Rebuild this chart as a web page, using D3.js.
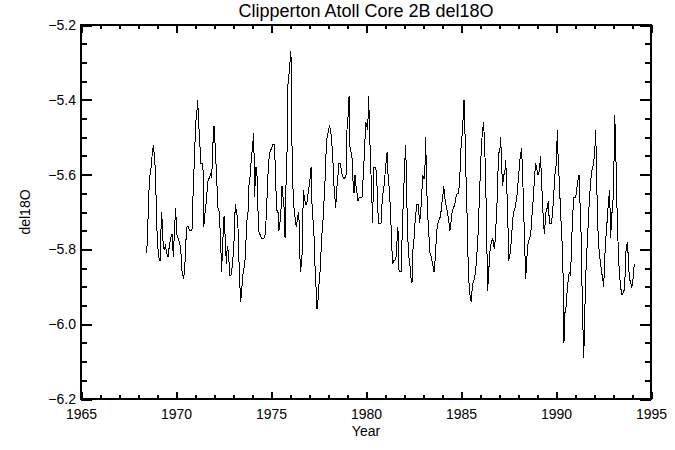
<!DOCTYPE html>
<html>
<head>
<meta charset="utf-8">
<script src="https://cdn.jsdelivr.net/npm/d3@7"></script>
<style>
  body { margin: 0; background: #fff; }
  text { font-family: "Liberation Sans", Arial, sans-serif; fill: #000; }
</style>
</head>
<body>
<div id="chart"></div>
<script>
// decimal year of each sample
var years = [
  1968.46, 1968.49, 1968.54, 1968.60, 1968.67, 1968.74, 1968.81, 1968.88, 1968.93, 1968.98,
  1969.04, 1969.09, 1969.16, 1969.19, 1969.25, 1969.30, 1969.37, 1969.44, 1969.51, 1969.58,
  1969.65, 1969.72, 1969.79, 1969.86, 1969.91, 1969.98, 1970.04, 1970.11, 1970.18, 1970.25,
  1970.32, 1970.40, 1970.47, 1970.53, 1970.58, 1970.65, 1970.72, 1970.84, 1970.88, 1970.93,
  1970.98, 1971.04, 1971.09, 1971.14, 1971.19, 1971.25, 1971.30, 1971.37, 1971.42, 1971.46,
  1971.53, 1971.60, 1971.67, 1971.74, 1971.81, 1971.88, 1971.93, 1972.00, 1972.07, 1972.14,
  1972.21, 1972.28, 1972.35, 1972.40, 1972.46, 1972.53, 1972.60, 1972.65, 1972.70, 1972.77,
  1972.82, 1972.89, 1972.95, 1973.02, 1973.07, 1973.12, 1973.19, 1973.25, 1973.30, 1973.35,
  1973.40, 1973.46, 1973.51, 1973.58, 1973.65, 1973.72, 1973.79, 1973.84, 1973.91, 1973.96,
  1974.02, 1974.09, 1974.14, 1974.19, 1974.25, 1974.30, 1974.35, 1974.42, 1974.49, 1974.56,
  1974.63, 1974.70, 1974.77, 1974.84, 1974.89, 1974.95, 1975.02, 1975.09, 1975.16, 1975.21,
  1975.26, 1975.32, 1975.37, 1975.42, 1975.47, 1975.53, 1975.58, 1975.63, 1975.68, 1975.74,
  1975.79, 1975.84, 1975.89, 1975.95, 1976.00, 1976.05, 1976.11, 1976.16, 1976.21, 1976.28,
  1976.33, 1976.39, 1976.44, 1976.49, 1976.54, 1976.60, 1976.65, 1976.70, 1976.75, 1976.82,
  1976.88, 1976.93, 1976.98, 1977.04, 1977.11, 1977.16, 1977.21, 1977.26, 1977.32, 1977.37,
  1977.42, 1977.47, 1977.53, 1977.58, 1977.63, 1977.68, 1977.74, 1977.79, 1977.84, 1977.89,
  1977.95, 1978.00, 1978.07, 1978.14, 1978.19, 1978.25, 1978.30, 1978.35, 1978.40, 1978.46,
  1978.51, 1978.58, 1978.63, 1978.68, 1978.74, 1978.81, 1978.88, 1978.95, 1979.00, 1979.05,
  1979.11, 1979.16, 1979.21, 1979.26, 1979.32, 1979.37, 1979.42, 1979.47, 1979.53, 1979.58,
  1979.65, 1979.72, 1979.79, 1979.86, 1979.93, 1979.98, 1980.04, 1980.09, 1980.14, 1980.19,
  1980.25, 1980.30, 1980.35, 1980.40, 1980.47, 1980.54, 1980.60, 1980.65, 1980.72, 1980.79,
  1980.84, 1980.89, 1980.95, 1981.00, 1981.05, 1981.11, 1981.16, 1981.21, 1981.25, 1981.30,
  1981.35, 1981.40, 1981.46, 1981.51, 1981.58, 1981.63, 1981.68, 1981.74, 1981.79, 1981.86,
  1981.91, 1981.98, 1982.04, 1982.09, 1982.14, 1982.19, 1982.25, 1982.30, 1982.35, 1982.42,
  1982.47, 1982.53, 1982.58, 1982.63, 1982.68, 1982.75, 1982.82, 1982.88, 1982.93, 1982.98,
  1983.04, 1983.09, 1983.14, 1983.19, 1983.25, 1983.32, 1983.37, 1983.44, 1983.51, 1983.58,
  1983.65, 1983.72, 1983.79, 1983.86, 1983.93, 1983.98, 1984.04, 1984.09, 1984.14, 1984.21,
  1984.28, 1984.35, 1984.42, 1984.47, 1984.53, 1984.60, 1984.67, 1984.74, 1984.81, 1984.88,
  1984.95, 1985.00, 1985.05, 1985.11, 1985.16, 1985.21, 1985.26, 1985.32, 1985.37, 1985.42,
  1985.47, 1985.53, 1985.58, 1985.63, 1985.70, 1985.77, 1985.84, 1985.91, 1985.96, 1986.02,
  1986.07, 1986.12, 1986.19, 1986.25, 1986.30, 1986.35, 1986.40, 1986.46, 1986.51, 1986.56,
  1986.61, 1986.67, 1986.72, 1986.77, 1986.82, 1986.88, 1986.93, 1986.98, 1987.04, 1987.09,
  1987.14, 1987.19, 1987.25, 1987.30, 1987.35, 1987.40, 1987.46, 1987.51, 1987.56, 1987.61,
  1987.67, 1987.72, 1987.77, 1987.84, 1987.91, 1987.96, 1988.02, 1988.07, 1988.12, 1988.19,
  1988.25, 1988.30, 1988.35, 1988.40, 1988.46, 1988.51, 1988.56, 1988.61, 1988.67, 1988.72,
  1988.77, 1988.82, 1988.88, 1988.93, 1988.98, 1989.04, 1989.09, 1989.14, 1989.19, 1989.23,
  1989.28, 1989.33, 1989.39, 1989.44, 1989.49, 1989.54, 1989.60, 1989.65, 1989.70, 1989.75,
  1989.81, 1989.86, 1989.91, 1989.96, 1990.02, 1990.07, 1990.12, 1990.18, 1990.23, 1990.28,
  1990.33, 1990.39, 1990.42, 1990.47, 1990.54, 1990.60, 1990.65, 1990.70, 1990.77, 1990.82,
  1990.88, 1990.93, 1990.98, 1991.04, 1991.09, 1991.14, 1991.21, 1991.26, 1991.32, 1991.37,
  1991.42, 1991.46, 1991.51, 1991.56, 1991.61, 1991.67, 1991.72, 1991.77, 1991.82, 1991.88,
  1991.93, 1991.98, 1992.04, 1992.09, 1992.14, 1992.19, 1992.25, 1992.30, 1992.35, 1992.40,
  1992.46, 1992.51, 1992.56, 1992.61, 1992.67, 1992.72, 1992.77, 1992.82, 1992.88, 1992.93,
  1992.98, 1993.04, 1993.09, 1993.14, 1993.19, 1993.25, 1993.30, 1993.35, 1993.40, 1993.46,
  1993.51, 1993.56, 1993.61, 1993.67, 1993.72, 1993.77, 1993.82, 1993.88, 1993.93, 1993.98,
  1994.04, 1994.09, 1994.14
];

// del18O values matching the years above
var del18O = [
  -5.81, -5.77, -5.70, -5.61, -5.59, -5.55, -5.52, -5.56, -5.61, -5.73,
  -5.79, -5.82, -5.83, -5.77, -5.70, -5.77, -5.80, -5.79, -5.81, -5.82,
  -5.79, -5.77, -5.76, -5.82, -5.76, -5.69, -5.76, -5.77, -5.78, -5.80,
  -5.86, -5.88, -5.84, -5.77, -5.74, -5.74, -5.75, -5.75, -5.68, -5.61,
  -5.54, -5.46, -5.44, -5.40, -5.46, -5.51, -5.57, -5.57, -5.58, -5.74,
  -5.70, -5.67, -5.62, -5.61, -5.60, -5.61, -5.53, -5.47, -5.53, -5.61,
  -5.69, -5.70, -5.78, -5.86, -5.78, -5.71, -5.78, -5.84, -5.79, -5.81,
  -5.87, -5.87, -5.85, -5.81, -5.76, -5.68, -5.70, -5.72, -5.81, -5.88,
  -5.94, -5.91, -5.87, -5.85, -5.82, -5.73, -5.70, -5.63, -5.60, -5.56,
  -5.53, -5.49, -5.66, -5.58, -5.58, -5.67, -5.75, -5.76, -5.77, -5.77,
  -5.77, -5.76, -5.69, -5.60, -5.56, -5.54, -5.53, -5.52, -5.52, -5.56,
  -5.64, -5.70, -5.70, -5.75, -5.73, -5.69, -5.63, -5.66, -5.68, -5.77,
  -5.63, -5.55, -5.36, -5.33, -5.30, -5.27, -5.54, -5.64, -5.69, -5.72,
  -5.74, -5.72, -5.70, -5.73, -5.86, -5.84, -5.80, -5.64, -5.66, -5.68,
  -5.68, -5.66, -5.64, -5.62, -5.58, -5.68, -5.72, -5.76, -5.85, -5.90,
  -5.96, -5.94, -5.89, -5.86, -5.81, -5.76, -5.72, -5.67, -5.62, -5.55,
  -5.50, -5.49, -5.47, -5.48, -5.51, -5.55, -5.62, -5.65, -5.69, -5.64,
  -5.61, -5.57, -5.57, -5.58, -5.60, -5.61, -5.61, -5.60, -5.48, -5.45,
  -5.39, -5.53, -5.54, -5.55, -5.62, -5.65, -5.60, -5.63, -5.65, -5.67,
  -5.66, -5.66, -5.66, -5.60, -5.53, -5.46, -5.47, -5.48, -5.39, -5.49,
  -5.58, -5.65, -5.73, -5.58, -5.58, -5.59, -5.65, -5.73, -5.73, -5.73,
  -5.68, -5.65, -5.63, -5.60, -5.57, -5.54, -5.60, -5.63, -5.66, -5.71,
  -5.78, -5.84, -5.83, -5.83, -5.82, -5.78, -5.74, -5.86, -5.86, -5.86,
  -5.74, -5.65, -5.57, -5.52, -5.65, -5.76, -5.82, -5.83, -5.87, -5.89,
  -5.80, -5.77, -5.73, -5.70, -5.68, -5.68, -5.73, -5.70, -5.66, -5.60,
  -5.61, -5.61, -5.50, -5.63, -5.71, -5.77, -5.81, -5.82, -5.84, -5.86,
  -5.82, -5.75, -5.73, -5.72, -5.71, -5.68, -5.66, -5.63, -5.66, -5.68,
  -5.70, -5.72, -5.75, -5.73, -5.70, -5.69, -5.68, -5.66, -5.65, -5.65,
  -5.59, -5.53, -5.50, -5.45, -5.40, -5.49, -5.60, -5.71, -5.82, -5.89,
  -5.92, -5.94, -5.91, -5.89, -5.88, -5.86, -5.81, -5.75, -5.67, -5.59,
  -5.53, -5.49, -5.46, -5.53, -5.62, -5.75, -5.91, -5.86, -5.81, -5.79,
  -5.78, -5.77, -5.79, -5.80, -5.75, -5.70, -5.62, -5.54, -5.54, -5.50,
  -5.58, -5.63, -5.60, -5.60, -5.56, -5.62, -5.71, -5.83, -5.82, -5.80,
  -5.76, -5.72, -5.70, -5.69, -5.67, -5.65, -5.61, -5.58, -5.55, -5.53,
  -5.61, -5.70, -5.78, -5.88, -5.83, -5.79, -5.78, -5.77, -5.76, -5.72,
  -5.69, -5.65, -5.60, -5.57, -5.58, -5.60, -5.60, -5.58, -5.55, -5.61,
  -5.66, -5.72, -5.76, -5.72, -5.69, -5.69, -5.67, -5.73, -5.73, -5.73,
  -5.71, -5.67, -5.63, -5.59, -5.57, -5.48, -5.57, -5.62, -5.69, -5.74,
  -5.79, -5.90, -6.05, -5.97, -5.95, -5.90, -5.88, -5.86, -5.87, -5.78,
  -5.71, -5.66, -5.66, -5.66, -5.64, -5.62, -5.60, -5.67, -5.76, -5.90,
  -6.01, -6.09, -5.98, -5.88, -5.82, -5.76, -5.70, -5.66, -5.62, -5.59,
  -5.58, -5.57, -5.54, -5.48, -5.61, -5.73, -5.79, -5.82, -5.84, -5.86,
  -5.88, -5.90, -5.83, -5.78, -5.74, -5.70, -5.67, -5.64, -5.77, -5.70,
  -5.70, -5.61, -5.44, -5.52, -5.65, -5.76, -5.83, -5.87, -5.90, -5.92,
  -5.92, -5.91, -5.91, -5.81, -5.79, -5.78, -5.85, -5.88, -5.89, -5.90,
  -5.89, -5.85, -5.84
];

var xTicks = [1965, 1970, 1975, 1980, 1985, 1990, 1995];
var yTicks = [-6.2, -6.0, -5.8, -5.6, -5.4, -5.2];

var margin = {top: 25, right: 24, bottom: 51, left: 81},
    width = 675 - margin.left - margin.right,
    height = 450 - margin.top - margin.bottom;

var x = d3.scaleLinear()
    .domain([1965, 1995])
    .range([0, width]);

var y = d3.scaleLinear()
    .domain([-6.2, -5.2])
    .range([height, 0]);

var xMinor = d3.range(1965, 1996, 1).filter(function(d) { return d % 5 !== 0; });
var yMinor = d3.range(0, 21).map(function(i) { return -6.2 + i * 0.05; })
    .filter(function(d, i) { return i % 4 !== 0; });

// IDL style: ticks point into the plot
var xMajorLen = 7.5, xMinorLen = 3.7,
    yMajorLen = 11.4, yMinorLen = 5.7;

var svg = d3.select("#chart").append("svg")
    .attr("width", 675)
    .attr("height", 450)
    .append("g")
    .attr("transform", "translate(" + margin.left + "," + margin.top + ")");

function tickLayer(axis, tr) {
  var g = svg.append("g").attr("transform", tr).call(axis);
  g.attr("font-family", null);
  g.select(".domain").remove();
  g.selectAll("line").attr("stroke", "#000").attr("stroke-width", 2).attr("shape-rendering", "crispEdges");
  g.selectAll("text").style("font-size", "14px").attr("fill", "#000");
  return g;
}

// bottom
tickLayer(d3.axisBottom(x).tickValues(xTicks).tickFormat(d3.format("d"))
    .tickSizeInner(-xMajorLen).tickSizeOuter(0).tickPadding(10), "translate(0," + height + ")");
tickLayer(d3.axisBottom(x).tickValues(xMinor).tickFormat("")
    .tickSizeInner(-xMinorLen).tickSizeOuter(0), "translate(0," + height + ")");
// top
tickLayer(d3.axisTop(x).tickValues(xTicks).tickFormat("")
    .tickSizeInner(-xMajorLen).tickSizeOuter(0), "translate(0,0)");
tickLayer(d3.axisTop(x).tickValues(xMinor).tickFormat("")
    .tickSizeInner(-xMinorLen).tickSizeOuter(0), "translate(0,0)");
// left
tickLayer(d3.axisLeft(y).tickValues(yTicks).tickFormat(d3.format(".1f"))
    .tickSizeInner(-yMajorLen).tickSizeOuter(0).tickPadding(5), "translate(0,0)");
tickLayer(d3.axisLeft(y).tickValues(yMinor).tickFormat("")
    .tickSizeInner(-yMinorLen).tickSizeOuter(0), "translate(0,0)");
// right
tickLayer(d3.axisRight(y).tickValues(yTicks).tickFormat("")
    .tickSizeInner(-yMajorLen).tickSizeOuter(0), "translate(" + width + ",0)");
tickLayer(d3.axisRight(y).tickValues(yMinor).tickFormat("")
    .tickSizeInner(-yMinorLen).tickSizeOuter(0), "translate(" + width + ",0)");

// plot box
svg.append("rect")
    .attr("width", width)
    .attr("height", height)
    .attr("fill", "none")
    .attr("stroke", "#000")
    .attr("stroke-width", 2)
    .attr("shape-rendering", "crispEdges");

var series = years.map(function(d, i) { return {year: d, value: del18O[i]}; });

var line = d3.line()
    .x(function(d) { return x(d.year); })
    .y(function(d) { return y(d.value); });

svg.append("path")
    .datum(series)
    .attr("fill", "none")
    .attr("stroke", "#000")
    .attr("stroke-width", 1)
    .attr("shape-rendering", "crispEdges")
    .attr("d", line);

svg.append("text")
    .attr("x", width / 2)
    .attr("y", -8)
    .attr("text-anchor", "middle")
    .style("font-size", "18px")
    .text("Clipperton Atoll Core 2B del18O");

svg.append("text")
    .attr("x", width / 2)
    .attr("y", height + 37)
    .attr("text-anchor", "middle")
    .style("font-size", "14px")
    .text("Year");

svg.append("text")
    .attr("transform", "translate(" + (-51) + "," + (height / 2) + ") rotate(-90)")
    .attr("text-anchor", "middle")
    .style("font-size", "14px")
    .text("del18O");
</script>
</body>
</html>
